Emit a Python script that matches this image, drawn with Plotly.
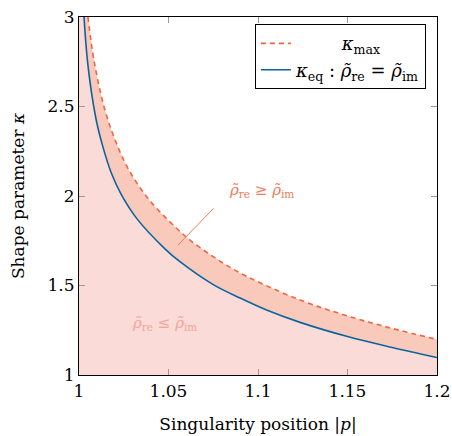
import plotly.graph_objects as go

# Readings from the picture
p_eq = [1.0028, 1.005, 1.0095, 1.0132, 1.018, 1.0235, 1.0322, 1.048,
        1.0564, 1.075, 1.09, 1.1048, 1.1235, 1.15, 1.175, 1.2]
k_eq = [3.00, 2.73, 2.43, 2.28, 2.13, 2.01, 1.875, 1.705,
        1.633, 1.505, 1.43, 1.363, 1.294, 1.215, 1.154, 1.098]

p_max = [1.005, 1.0085, 1.0145, 1.0207, 1.0276, 1.0387, 1.0536, 1.062,
         1.075, 1.09, 1.1235, 1.15, 1.175, 1.2]
k_max = [3.00, 2.75, 2.48, 2.30, 2.15, 1.985, 1.828, 1.754,
         1.661, 1.57, 1.419, 1.33, 1.26, 1.199]

x_range = [1.0, 1.2]
y_range = [1.0, 3.0]
x_ticks = [1, 1.05, 1.1, 1.15, 1.2]
x_ticklabels = ["1", "1.05", "1.1", "1.15", "1.2"]
y_ticks = [1, 1.5, 2, 2.5, 3]
y_ticklabels = ["1", "1.5", "2", "2.5", "3"]

BLUE = "#0b639e"
ORANGE = "#f26440"
PINK = "#fadbd8"
SALMON = "#f9cabb"
FONT = "DejaVu Serif"

fig = go.Figure()

# pink region below kappa_eq (fill to y=0, clipped at axis bottom)
fig.add_trace(go.Scatter(
    x=p_eq, y=k_eq, mode="lines", fill="tozeroy", fillcolor=PINK,
    line=dict(width=0, shape="spline", color=PINK),
    showlegend=False, hoverinfo="skip"))
# salmon region between kappa_eq and kappa_max
fig.add_trace(go.Scatter(
    x=p_max, y=k_max, mode="lines", fill="tonexty", fillcolor=SALMON,
    line=dict(width=0, shape="spline", color=SALMON),
    showlegend=False, hoverinfo="skip"))

# thin strip left of where kappa_eq leaves the top of the axes
fig.add_shape(type="rect", xref="x", yref="y", layer="below",
              x0=x_range[0], x1=p_eq[0], y0=y_range[0], y1=y_range[1],
              fillcolor=PINK, line=dict(width=0))

fig.add_trace(go.Scatter(
    x=p_max, y=k_max, mode="lines",
    line=dict(color=ORANGE, width=1.6, dash="5px,4px", shape="spline"),
    name="\u00a0" * 8 + "<i>κ</i><sub>max</sub>"))

fig.add_trace(go.Scatter(
    x=p_eq, y=k_eq, mode="lines",
    line=dict(color=BLUE, width=1.6, shape="spline"),
    name="<i>κ</i><sub>eq</sub> : <i>ρ̃</i><sub>re</sub> = <i>ρ̃</i><sub>im</sub>"))

# annotations
fig.add_annotation(x=1.0553, y=1.726, ax=1.076, ay=1.939,
                   xref="x", yref="y", axref="x", ayref="y",
                   showarrow=True, arrowhead=0, arrowwidth=1,
                   arrowcolor="#f07a5c", text="")
fig.add_annotation(x=1.102, y=2.03, xref="x", yref="y", showarrow=False,
                   text="<i>ρ̃</i><sub>re</sub> ≥ <i>ρ̃</i><sub>im</sub>",
                   font=dict(family=FONT, size=15, color="#f07a5c"))
fig.add_annotation(x=1.048, y=1.29, xref="x", yref="y", showarrow=False,
                   text="<i>ρ̃</i><sub>re</sub> ≤ <i>ρ̃</i><sub>im</sub>",
                   font=dict(family=FONT, size=15, color="#f3a39c"))

axis_common = dict(
    automargin=False,
    showgrid=False, zeroline=False, showline=True, linecolor="black",
    linewidth=1.2, mirror="allticks", ticks="inside", ticklen=6,
    tickcolor="#999999", tickwidth=1,
    tickfont=dict(family=FONT, size=17, color="black"))

fig.update_xaxes(range=x_range, tickvals=x_ticks, ticktext=x_ticklabels,
                 title=dict(text="Singularity position |<i>p</i>|",
                            font=dict(family=FONT, size=17, color="black"),
                            standoff=18),
                 **axis_common)
fig.update_yaxes(range=y_range, tickvals=y_ticks, ticktext=y_ticklabels,
                 title=dict(text="Shape parameter <i>κ</i>",
                            font=dict(family=FONT, size=17, color="black"),
                            standoff=18),
                 **axis_common)

fig.update_layout(
    width=452, height=436,
    margin=dict(l=79, r=15, t=17, b=61),
    plot_bgcolor="white", paper_bgcolor="white",
    legend=dict(x=0.969, y=0.98, xanchor="right", yanchor="top",
                traceorder="normal", itemwidth=30,
                bordercolor="black", borderwidth=1, bgcolor="white",
                font=dict(family=FONT, size=18, color="black"),
                tracegroupgap=0),
)

# remove the default page margin so the figure sits at the window corner
fig.write_html("out.html",
               config={"displayModeBar": False},
               post_script="document.body.style.margin='0';")
